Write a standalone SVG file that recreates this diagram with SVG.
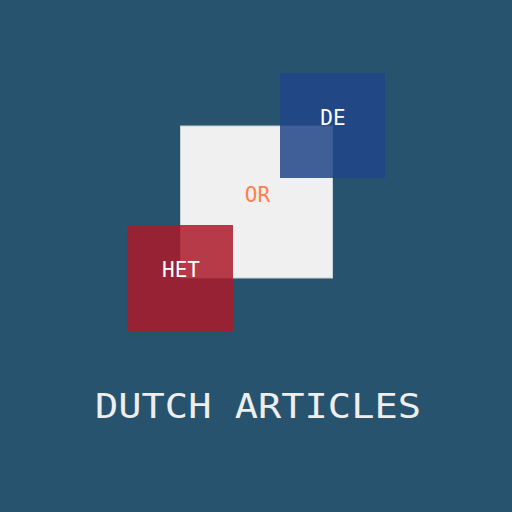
<svg xmlns="http://www.w3.org/2000/svg" width="512" height="512" viewBox="0 0 512 512">
<style>
.lbl{font-family:"DejaVu Sans Mono","Liberation Mono",monospace;font-size:21px;text-anchor:middle}
.title{font-family:"DejaVu Sans Mono","Liberation Mono",monospace;font-size:34px;fill:#EEEEEE}
</style>
<rect width="512" height="512" fill="#27536F"/>
<g id="or">
<rect x="180.5" y="126" width="152" height="152" fill="#F0F0F0" stroke="#C8D0D8" stroke-width="1"/>
<text class="lbl" x="257.5" y="202" fill="#FF7F50">OR</text>
</g>
<g id="de">
<rect x="280" y="73" width="105" height="105" fill="#21458A" fill-opacity="0.85"/>
<text class="lbl" x="333" y="125" fill="#FFFFFF">DE</text>
</g>
<g id="het">
<rect x="127" y="225" width="106" height="106" fill="#AC1A2A" fill-opacity="0.85"/>
<text class="lbl" x="181" y="277" fill="#FFFFFF">HET</text>
</g>
<g id="connectors"></g>
<text class="title" x="95" y="418" textLength="326" lengthAdjust="spacingAndGlyphs">DUTCH ARTICLES</text>
</svg>
